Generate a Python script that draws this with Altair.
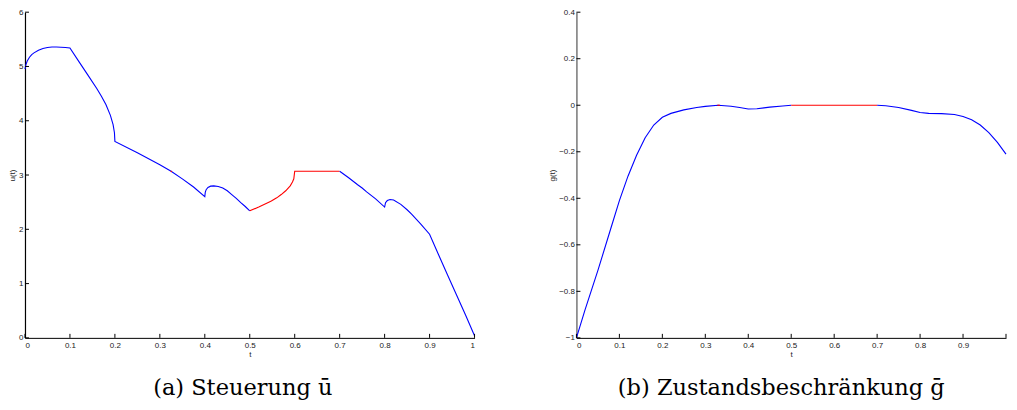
import altair as alt
import pandas as pd

# ---------------- (a) control u(t) ----------------
u_blue1_t = [0, 0.002, 0.005, 0.01, 0.015, 0.02, 0.03, 0.04, 0.05, 0.06, 0.07, 0.08, 0.09, 0.1,
             0.12, 0.14, 0.16, 0.17, 0.18, 0.19, 0.196, 0.199, 0.2,
             0.25, 0.3, 0.325, 0.35, 0.375, 0.4,
             0.401, 0.403, 0.407, 0.413, 0.42, 0.43, 0.44, 0.45, 0.46, 0.47, 0.48, 0.49, 0.5]
u_blue1_v = [4.95, 5.03, 5.1, 5.17, 5.22, 5.25, 5.3, 5.33, 5.35, 5.36, 5.36, 5.355, 5.35, 5.34,
             5.09, 4.84, 4.59, 4.45, 4.30, 4.10, 3.93, 3.78, 3.62,
             3.41, 3.19, 3.07, 2.93, 2.78, 2.6,
             2.68, 2.73, 2.77, 2.795, 2.8, 2.79, 2.76, 2.71, 2.64, 2.57, 2.49, 2.42, 2.34]
u_red_t = [0.5, 0.52, 0.54, 0.548, 0.56, 0.57, 0.58, 0.59, 0.595, 0.598, 0.6, 0.7]
u_red_v = [2.34, 2.41, 2.49, 2.52, 2.58, 2.64, 2.71, 2.8, 2.87, 2.93, 3.07, 3.07]
u_blue2_t = [0.7, 0.72, 0.74, 0.75, 0.76, 0.78, 0.8, 0.802, 0.806, 0.812, 0.82, 0.836, 0.85, 0.86,
             0.88, 0.9, 0.92, 0.94, 0.96, 0.98, 1.0]
u_blue2_v = [3.07, 2.95, 2.82, 2.76, 2.69, 2.56, 2.41, 2.49, 2.53, 2.55, 2.54, 2.46, 2.36, 2.28,
             2.1, 1.91, 1.53, 1.16, 0.79, 0.42, 0.04]
u_dot_t = [0.324, 0.327]
u_dot_v = [3.075, 3.06]

# ---------------- (b) state constraint g(t) ----------------
g_blue1_t = [0, 0.02, 0.05, 0.08, 0.1, 0.12, 0.14, 0.16, 0.18, 0.2, 0.22, 0.25, 0.28, 0.3,
             0.33, 0.36, 0.38, 0.4, 0.42, 0.45, 0.48, 0.5]
g_blue1_v = [-1, -0.88, -0.71, -0.53, -0.41, -0.305, -0.215, -0.14, -0.085, -0.052, -0.035,
             -0.02, -0.01, -0.005, 0, -0.004, -0.01, -0.016, -0.015, -0.008, -0.003, 0]
g_red_t = [0.5, 0.7]
g_red_v = [0, 0]
g_blue2_t = [0.7, 0.72, 0.75, 0.78, 0.8, 0.82, 0.85, 0.88, 0.9, 0.92, 0.94, 0.96, 0.98, 1.0]
g_blue2_v = [0, -0.002, -0.01, -0.022, -0.031, -0.035, -0.036, -0.04, -0.048, -0.062, -0.085,
             -0.118, -0.16, -0.21]
g_dot_t = [0.328, 0.334]
g_dot_v = [0, 0]

x_ticks = [0, 0.1, 0.2, 0.3, 0.4, 0.5, 0.6, 0.7, 0.8, 0.9, 1]
u_ticks = [0, 1, 2, 3, 4, 5, 6]
g_ticks = [-1, -0.8, -0.6, -0.4, -0.2, 0, 0.2, 0.4]

caption_a = "(a) Steuerung \u016b"
caption_b = "(b) Zustandsbeschr\u00e4nkung \u1e21"


def segs(parts):
    rows = []
    for k, (ts, vs, c) in enumerate(parts):
        for i, (t, v) in enumerate(zip(ts, vs)):
            rows.append({"t": t, "v": v, "c": c, "seg": k, "i": i})
    return pd.DataFrame(rows)


df_u = segs([(u_blue1_t, u_blue1_v, "b"), (u_red_t, u_red_v, "r"),
             (u_blue2_t, u_blue2_v, "b"), (u_dot_t, u_dot_v, "r")])
df_g = segs([(g_blue1_t, g_blue1_v, "b"), (g_red_t, g_red_v, "r"),
             (g_blue2_t, g_blue2_v, "b"), (g_dot_t, g_dot_v, "r")])

W1, W2, H = 450, 430, 326
SANS = "Liberation Sans"
SERIF = "DejaVu Serif"


def panel(df, ydom, yticks, ytitle, width, caption, ydomain_color, dx, hide_last):
    xs = alt.Scale(domain=[0, 1], nice=False, zero=False)
    ys = alt.Scale(domain=ydom, nice=False, zero=False)
    lab = "datum.value == 1 ? '' : format(datum.value, '~g')" if hide_last else "format(datum.value, '~g')"
    xax = alt.Axis(values=x_ticks, labelExpr=lab, title="t", ticks=False, tickSize=0,
                   labelPadding=4, titlePadding=1, grid=False,
                   domainColor="black", domainWidth=1)
    yax = alt.Axis(values=yticks, format="~g", title=ytitle, ticks=False, tickSize=0,
                   labelPadding=2, titlePadding=2, grid=False,
                   domainColor=ydomain_color, domainWidth=1.2)
    line = alt.Chart(df).mark_line(strokeWidth=1.1).encode(
        x=alt.X("t:Q", scale=xs, axis=xax),
        y=alt.Y("v:Q", scale=ys, axis=yax),
        color=alt.Color("c:N", scale=alt.Scale(domain=["b", "r"], range=["#0000ff", "#ff0000"]),
                        legend=None),
        detail="seg:N",
        order="i:Q",
    )
    xt = alt.Chart(pd.DataFrame({"t": x_ticks})).mark_rule(color="black", strokeWidth=1).encode(
        x=alt.X("t:Q", scale=xs, axis=xax), y=alt.value(H), y2=alt.value(H - 4))
    yt = alt.Chart(pd.DataFrame({"v": yticks})).mark_rule(color="black", strokeWidth=1).encode(
        y=alt.Y("v:Q", scale=ys, axis=yax), x=alt.value(0), x2=alt.value(4))
    return alt.layer(line, xt, yt).properties(
        width=width, height=H,
        title=alt.TitleParams(caption, orient="bottom", anchor="middle", frame="group",
                              font=SERIF, fontSize=22.5, fontWeight="normal", color="black",
                              offset=18, dx=dx),
    )


left = panel(df_u, [0, 6], u_ticks, "u(t)", W1, caption_a, "black", -7, False)
right = panel(df_g, [-1, 0.4], g_ticks, "g(t)", W2, caption_b, "#555555", -10, True)

chart = alt.hconcat(left, right, spacing=71).properties(
    padding={"left": 0, "top": 0, "right": 0, "bottom": 0}
).configure_view(stroke=None).configure_axis(
    labelFont=SANS, labelFontSize=8, labelColor="#222222",
    titleFont=SANS, titleFontSize=8, titleFontWeight="normal", titleColor="#222222",
)

chart.save("out.html", embed_options={"renderer": "svg", "actions": False})
